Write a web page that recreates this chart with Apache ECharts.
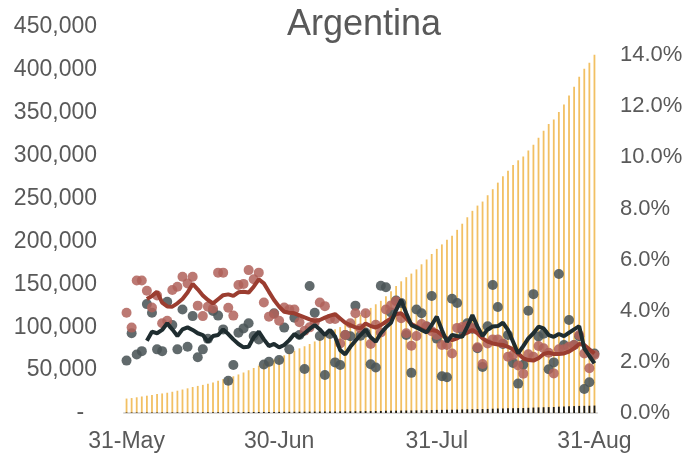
<!DOCTYPE html>
<html>
<head>
<meta charset="utf-8">
<script src="https://cdn.jsdelivr.net/npm/echarts@6/dist/echarts.min.js"></script>
<style>
  html, body { margin: 0; padding: 0; background: #fff; }
  #chart { width: 686px; height: 459px; }
</style>
</head>
<body>
<div id="chart"></div>
<script>
// 31-May .. 31-Aug, one slot per day
const months = ['May', 'Jun', 'Jul', 'Aug'];
const monthDays = [[31], range(1, 30), range(1, 31), range(1, 31)];
function range(a, b) { const r = []; for (let i = a; i <= b; i++) r.push(i); return r; }
const days = [];
monthDays.forEach((list, m) => list.forEach(d => days.push(d + '-' + months[m])));

const tickLabels = ['31-May', '30-Jun', '31-Jul', '31-Aug'];

// cumulative cases (gold bars, left axis)
const cases = [
  16838,
  17415, 18319, 19268, 20197, 21037, 22020, 22794, 23620, 24761, 25987,
  27373, 28764, 30295, 31577, 32785, 34159, 35552, 37510, 39570, 41204,
  42785, 44931, 47216, 49851, 52457, 55343, 57744, 59933, 62268, 64530,
  67197, 69941, 72786, 75376, 77815, 80447, 83426, 87030, 90693, 94060,
  97509, 100166, 103265, 106910, 111160, 114783, 119301, 122524, 126755, 130774,
  136118, 141900, 148027, 153520, 158334, 162526, 167416, 173355, 178996, 185373, 191302,
  196543, 201919, 206743, 213535, 220682, 228195, 235677, 241811, 246499, 253868,
  260911, 268574, 276072, 282437, 289100, 294569, 299126, 305966, 312659, 320884,
  329043, 336802, 342154, 350867, 359638, 370188, 380292, 392009, 401239, 408426, 417735
];

// cumulative deaths (dark bars, left axis)
const deaths = [
  528,
  539, 556, 569, 583, 608, 632, 648, 664, 693, 717,
  735, 765, 785, 815, 833, 854, 878, 913, 948, 979,
  992, 1011, 1078, 1116, 1150, 1184, 1207, 1232, 1280, 1307,
  1351, 1385, 1426, 1490, 1522, 1582, 1644, 1694, 1774, 1810,
  1845, 1862, 1903, 1968, 2050, 2112, 2178, 2220, 2260, 2373,
  2490, 2588, 2702, 2807, 2893, 2939, 3059, 3179, 3288, 3406, 3596,
  3648, 3712, 3813, 3979, 4106, 4251, 4411, 4523, 4606, 4764,
  5004, 5213, 5362, 5527, 5637, 5703, 5750, 6048, 6330, 6517,
  6730, 6848, 6985, 7366, 7563, 7839, 8050, 8271, 8353, 8457, 8660
];

// daily growth of cases, % (red dots, right axis)
const caseGrowth = [
  3.92, 3.34, 5.18, 5.18, 4.78, 4.13, 4.60, 3.51, 3.61, 4.81,
  4.94, 5.33, 5.07, 5.33, 4.20, 3.79, 4.16, 4.09, 5.49, 5.49,
  4.12, 3.81, 5.01, 5.05, 5.59, 5.23, 5.49, 4.32, 3.77, 3.87,
  3.61, 4.13, 4.05, 4.05, 3.55, 3.22, 3.35, 3.55, 4.32, 4.18,
  3.68, 3.68, 2.72, 3.05, 3.51, 3.90, 3.31, 3.90, 2.70, 3.45,
  3.15, 4.05, 4.21, 4.37, 3.71, 3.12, 2.63, 3.01, 3.48, 3.38,
  3.20, 3.05, 2.66, 2.66, 2.33, 3.33, 3.36, 3.40, 3.33, 2.57,
  1.92, 2.72, 2.88, 2.88, 2.72, 2.20, 2.27, 1.86, 1.54, 2.30,
  2.20, 2.62, 2.53, 2.36, 1.55, 2.49, 2.49, 2.59, 2.66, 3.05,
  2.33, 1.75, 2.27
];

// daily growth of deaths, % (dark dots, right axis)
const deathGrowth = [
  2.05, 3.12, 2.29, 2.42, 4.26, 3.92, 2.49, 2.42, 4.35, 3.44,
  2.49, 4.05, 2.59, 3.79, 2.18, 2.49, 2.90, 3.99, 3.81, 3.27,
  1.26, 1.88, 3.14, 3.31, 3.51, 3.01, 2.88, 1.90, 2.00, 3.90,
  2.07, 3.34, 2.49, 3.73, 3.05, 1.72, 4.97, 3.92, 3.01, 1.49,
  3.09, 1.98, 1.88, 3.05, 3.00, 4.20, 3.02, 3.15, 1.91, 1.78,
  4.98, 4.92, 3.93, 4.40, 4.30, 3.05, 1.57, 4.05, 3.90, 3.38,
  4.58, 2.91, 1.44, 1.40, 4.47, 4.30, 3.25, 3.51, 3.30, 2.53,
  1.80, 3.39, 5.01, 4.15, 2.70, 3.05, 1.96, 1.15, 1.89, 4.00,
  4.65, 2.99, 3.10, 1.71, 1.98, 5.44, 2.66, 3.64, 2.66, 3.00,
  0.94, 1.20, 2.33
];

// smoothed case growth, % (red line)
const caseAvg = [
  null, null, null, null, 4.46, 4.58, 4.74, 4.32, 4.17, 4.16,
  4.29, 4.46, 4.71, 5.05, 4.84, 4.60, 4.42, 4.29, 4.45, 4.61,
  4.64, 4.58, 4.72, 4.74, 4.71, 4.94, 5.23, 5.07, 4.74, 4.42,
  4.16, 3.96, 3.92, 3.90, 3.82, 3.74, 3.66, 3.60, 3.64, 3.73,
  3.81, 3.87, 3.70, 3.53, 3.44, 3.35, 3.31, 3.50, 3.40, 3.35,
  3.44, 3.57, 3.70, 3.87, 3.90, 3.70, 3.48, 3.38, 3.27, 3.18,
  3.25, 3.21, 3.05, 2.92, 2.85, 2.92, 3.05, 3.14, 3.25, 3.12,
  2.92, 2.79, 2.72, 2.68, 2.66, 2.59, 2.49, 2.33, 2.14, 2.07,
  2.05, 2.14, 2.31, 2.36, 2.31, 2.31, 2.33, 2.40, 2.53, 2.70,
  2.66, 2.49, 2.33
];

// smoothed death growth, % (dark line)
const deathAvg = [
  null, null, null, null, 2.83, 3.18, 3.12, 3.25, 3.51, 3.27,
  3.01, 3.27, 3.35, 3.25, 3.12, 3.05, 2.79, 3.01, 3.05, 3.27,
  3.09, 2.88, 2.70, 2.57, 2.59, 2.96, 3.18, 2.88, 2.62, 2.70,
  2.57, 2.66, 2.85, 3.09, 2.95, 3.12, 3.29, 3.44, 3.27, 3.05,
  3.25, 2.99, 2.46, 2.29, 2.59, 2.83, 3.05, 3.26, 2.96, 2.79,
  3.12, 3.35, 3.53, 4.03, 4.42, 3.90, 3.44, 3.35, 3.25, 3.15,
  3.44, 3.77, 3.25, 2.79, 3.05, 3.01, 2.98, 3.38, 3.83, 3.38,
  3.01, 3.27, 3.38, 3.40, 3.53, 3.25, 2.79, 2.33, 2.62, 2.92,
  3.12, 3.38, 3.31, 3.05, 2.98, 3.09, 3.01, 3.14, 3.27, 3.40,
  2.53, 2.23, 1.94
];

const textColor = '#595959';
const font = 'Liberation Sans, Arial, sans-serif';
const showTick = (idx) => tickLabels.indexOf(days[idx]) >= 0;

const chart = echarts.init(document.getElementById('chart'), null, { renderer: 'canvas' });
chart.setOption({
  animation: false,
  title: {
    text: 'Argentina',
    left: 282,
    top: 2,
    textStyle: { fontFamily: font, fontSize: 36, fontWeight: 'normal', color: textColor }
  },
  grid: { left: 124, right: 89, top: 27, bottom: 46 },
  xAxis: {
    type: 'category',
    data: days,
    boundaryGap: true,
    axisLine: { lineStyle: { color: '#d9d9d9', width: 2 } },
    axisTick: { interval: showTick, length: 6, lineStyle: { color: '#d9d9d9', width: 2 } },
    axisLabel: { interval: showTick, fontFamily: font, fontSize: 23, color: textColor, margin: 17 },
    splitLine: { show: false }
  },
  yAxis: [
    {
      type: 'value',
      min: 0,
      max: 450000,
      interval: 50000,
      axisLine: { show: false },
      axisTick: { show: false },
      splitLine: { show: false },
      axisLabel: {
        fontFamily: font, fontSize: 23, color: textColor, margin: 27,
        formatter: v => v === 0 ? '-  ' : v.toLocaleString('en-US')
      }
    },
    {
      type: 'value',
      min: 0,
      max: 15.1,
      interval: 2,
      axisLine: { show: false },
      axisTick: { show: false },
      splitLine: { show: false },
      axisLabel: {
        fontFamily: font, fontSize: 22, color: textColor, margin: 23,
        showMaxLabel: false,
        formatter: v => v > 14.5 ? '' : v.toFixed(1) + '%'
      }
    }
  ],
  series: [
    {
      name: 'Cases', type: 'bar', data: cases, barWidth: 1.8, barGap: '-100%',
      itemStyle: { color: '#F2C063' }, z: 1
    },
    {
      name: 'Deaths', type: 'bar', data: deaths, barWidth: 1.8, barGap: '-100%',
      itemStyle: { color: '#1a1a1a' }, z: 1
    },
    {
      name: 'Death growth', type: 'scatter', yAxisIndex: 1, data: deathGrowth,
      symbolSize: 10, itemStyle: { color: '#4B5558', opacity: 0.88 }, z: 2
    },
    {
      name: 'Case growth', type: 'scatter', yAxisIndex: 1, data: caseGrowth,
      symbolSize: 10, itemStyle: { color: '#B0625A', opacity: 0.85 }, z: 2
    },
    {
      name: 'Case growth avg', type: 'line', yAxisIndex: 1, data: caseAvg,
      showSymbol: false, lineStyle: { color: '#9B3D30', width: 4 }, z: 3
    },
    {
      name: 'Death growth avg', type: 'line', yAxisIndex: 1, data: deathAvg,
      showSymbol: false, lineStyle: { color: '#1F2D30', width: 4 }, z: 4
    }
  ]
});
</script>
</body>
</html>
